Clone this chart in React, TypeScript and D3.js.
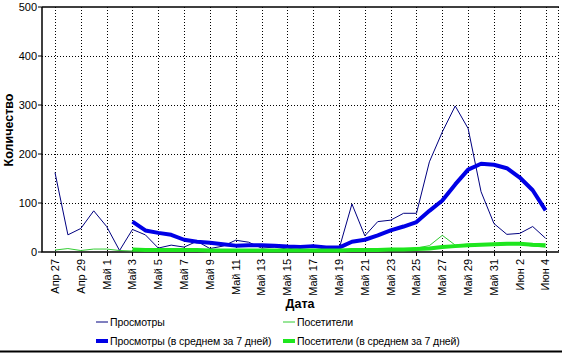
import React, { useEffect, useRef } from "react";
import * as d3 from "d3";

// daily values, Apr 27 .. Jun 4
const dates = d3.timeDay.range(new Date(2009, 3, 27), new Date(2009, 5, 5));

const views = [
  162, 35, 48, 84, 52, 3, 46, 35, 8, 14, 10, 22, 7, 12, 24, 20, 8, 10, 6, 10,
  14, 5, 6, 98, 33, 62, 65, 79, 79, 184, 245, 298, 252, 123, 58, 36, 38, 52, 28,
];
const visitors = [
  4, 7, 3, 6, 6, 3, 2, 4, 3, 5, 3, 4, 2, 3, 4, 4, 3, 3, 2, 3, 4, 2, 3, 6, 4, 4,
  5, 6, 8, 13, 34, 14, 16, 15, 14, 15, 16, 12, 10,
];
// 7-day averages start on May 3
const avgStart = 6;
const viewsAvg = [
  62, 44, 39, 35, 25, 21, 19, 16, 13, 14, 14, 13, 11, 10, 12, 9, 9, 21, 25, 34,
  44, 52, 61, 84, 105, 138, 168, 180, 178, 171, 152, 126, 85,
];
const visitorsAvg = [
  5, 4, 4, 4, 4, 4, 3, 3, 3, 3, 3, 3, 3, 3, 3, 3, 3, 4, 4, 4, 5, 5, 6, 7, 10,
  12, 14, 15, 16, 17, 17, 15, 14,
];

const tickLabels = [
  "Апр 27", "Апр 29", "Май 1", "Май 3", "Май 5", "Май 7", "Май 9", "Май 11",
  "Май 13", "Май 15", "Май 17", "Май 19", "Май 21", "Май 23", "Май 25",
  "Май 27", "Май 29", "Май 31", "Июн 2", "Июн 4",
];
const yTicks = [0, 100, 200, 300, 400, 500];

const legendItems = [
  { label: "Просмотры", color: "#000080", width: 1, col: 0, row: 0 },
  { label: "Посетители", color: "#33cc33", width: 1, col: 1, row: 0 },
  { label: "Просмотры (в среднем за 7 дней)", color: "#0000e6", width: 4, col: 0, row: 1 },
  { label: "Посетители (в среднем за 7 дней)", color: "#1ee61e", width: 4, col: 1, row: 1 },
];

export default function App() {
  const svgRef = useRef<SVGSVGElement>(null);
  const width = 562;
  const height = 353;

  useEffect(() => {
    const svg = d3.select(svgRef.current);
    svg.selectAll("*").remove();

    const left = 42;
    const right = 558;
    const top = 7;
    const bottom = 252;
    const font = "'Liberation Sans', Arial, sans-serif";

    const x = d3
      .scaleTime()
      .domain([dates[0], dates[dates.length - 1]])
      .range([55, 545.6]);
    const y = d3.scaleLinear().domain([0, 500]).range([bottom, top]);

    const tickDates = tickLabels.map((_, i) => dates[i * 2]);

    // grid
    const grid = svg.append("g").attr("stroke", "#000").attr("stroke-dasharray", "1,2");
    grid
      .selectAll("line.v")
      .data(tickDates)
      .join("line")
      .attr("x1", (d) => Math.round(x(d)) + 0.5)
      .attr("x2", (d) => Math.round(x(d)) + 0.5)
      .attr("y1", top)
      .attr("y2", bottom);
    grid
      .selectAll("line.h")
      .data(yTicks.slice(1, -1))
      .join("line")
      .attr("class", "h")
      .attr("x1", left)
      .attr("x2", right)
      .attr("y1", (d) => Math.round(y(d)) + 0.5)
      .attr("y2", (d) => Math.round(y(d)) + 0.5);
    svg
      .append("line")
      .attr("x1", right + 0.5)
      .attr("x2", right + 0.5)
      .attr("y1", top)
      .attr("y2", bottom)
      .attr("stroke", "#000")
      .attr("stroke-dasharray", "1,2");

    // frame / axes
    svg
      .append("path")
      .attr("d", `M${left},${top}H${right + 1}M${left},${top}V${bottom}H${right + 1}`)
      .attr("fill", "none")
      .attr("stroke", "#000")
      .attr("stroke-width", 1.5);

    // y axis ticks + labels
    const yAxis = svg.append("g");
    yAxis
      .selectAll("line")
      .data(yTicks)
      .join("line")
      .attr("x1", left - 4)
      .attr("x2", left)
      .attr("y1", (d) => y(d))
      .attr("y2", (d) => y(d))
      .attr("stroke", "#000");
    yAxis
      .selectAll("text")
      .data(yTicks)
      .join("text")
      .attr("x", left - 5)
      .attr("y", (d) => y(d))
      .attr("dy", "0.35em")
      .attr("text-anchor", "end")
      .attr("font-family", font)
      .attr("font-size", 11)
      .text((d) => d);

    // x axis ticks + labels
    const xAxis = svg.append("g");
    xAxis
      .selectAll("line")
      .data(tickDates)
      .join("line")
      .attr("x1", (d) => Math.round(x(d)) + 0.5)
      .attr("x2", (d) => Math.round(x(d)) + 0.5)
      .attr("y1", bottom)
      .attr("y2", bottom + 4)
      .attr("stroke", "#000");
    xAxis
      .selectAll("text")
      .data(tickDates)
      .join("text")
      .attr("transform", (d) => `translate(${x(d)},${bottom + 7}) rotate(-90)`)
      .attr("dy", "0.35em")
      .attr("text-anchor", "end")
      .attr("font-family", font)
      .attr("font-size", 11)
      .text((_, i) => tickLabels[i]);

    // axis titles
    svg
      .append("text")
      .attr("transform", `translate(13,130) rotate(-90)`)
      .attr("text-anchor", "middle")
      .attr("font-family", font)
      .attr("font-weight", "bold")
      .attr("font-size", 12.5)
      .text("Количество");
    svg
      .append("text")
      .attr("x", 300)
      .attr("y", 308)
      .attr("text-anchor", "middle")
      .attr("font-family", font)
      .attr("font-weight", "bold")
      .attr("font-size", 12.5)
      .text("Дата");

    // series
    const line = (offset: number) =>
      d3
        .line<number>()
        .x((_, i) => x(dates[i + offset]))
        .y((d) => y(d));

    const series = [
      { data: views, offset: 0, color: legendItems[0].color, w: 1 },
      { data: visitors, offset: 0, color: legendItems[1].color, w: 1 },
      { data: viewsAvg, offset: avgStart, color: legendItems[2].color, w: 4 },
      { data: visitorsAvg, offset: avgStart, color: legendItems[3].color, w: 4 },
    ];
    svg
      .append("g")
      .selectAll("path")
      .data(series)
      .join("path")
      .attr("d", (s) => line(s.offset)(s.data))
      .attr("fill", "none")
      .attr("stroke", (s) => s.color)
      .attr("stroke-width", (s) => s.w)
      .attr("stroke-linejoin", "round");

    // legend
    const legend = svg
      .append("g")
      .selectAll("g")
      .data(legendItems)
      .join("g")
      .attr("transform", (d) => `translate(${d.col ? 283 : 96},${d.row ? 341 : 322})`);
    legend
      .append("line")
      .attr("x1", 0)
      .attr("x2", 12)
      .attr("stroke", (d) => d.color)
      .attr("stroke-width", (d) => d.width);
    legend
      .append("text")
      .attr("x", 14)
      .attr("dy", "0.35em")
      .attr("font-family", font)
      .attr("font-size", 10.5)
      .attr("letter-spacing", -0.1)
      .text((d) => d.label);

    svg
      .append("line")
      .attr("x1", 0)
      .attr("x2", width)
      .attr("y1", 351.5)
      .attr("y2", 351.5)
      .attr("stroke", "#000")
      .attr("stroke-width", 2);
  }, []);

  return (
    <svg
      ref={svgRef}
      width={width}
      height={height}
      style={{ position: "absolute", left: 0, top: 0, background: "#fff" }}
    />
  );
}
